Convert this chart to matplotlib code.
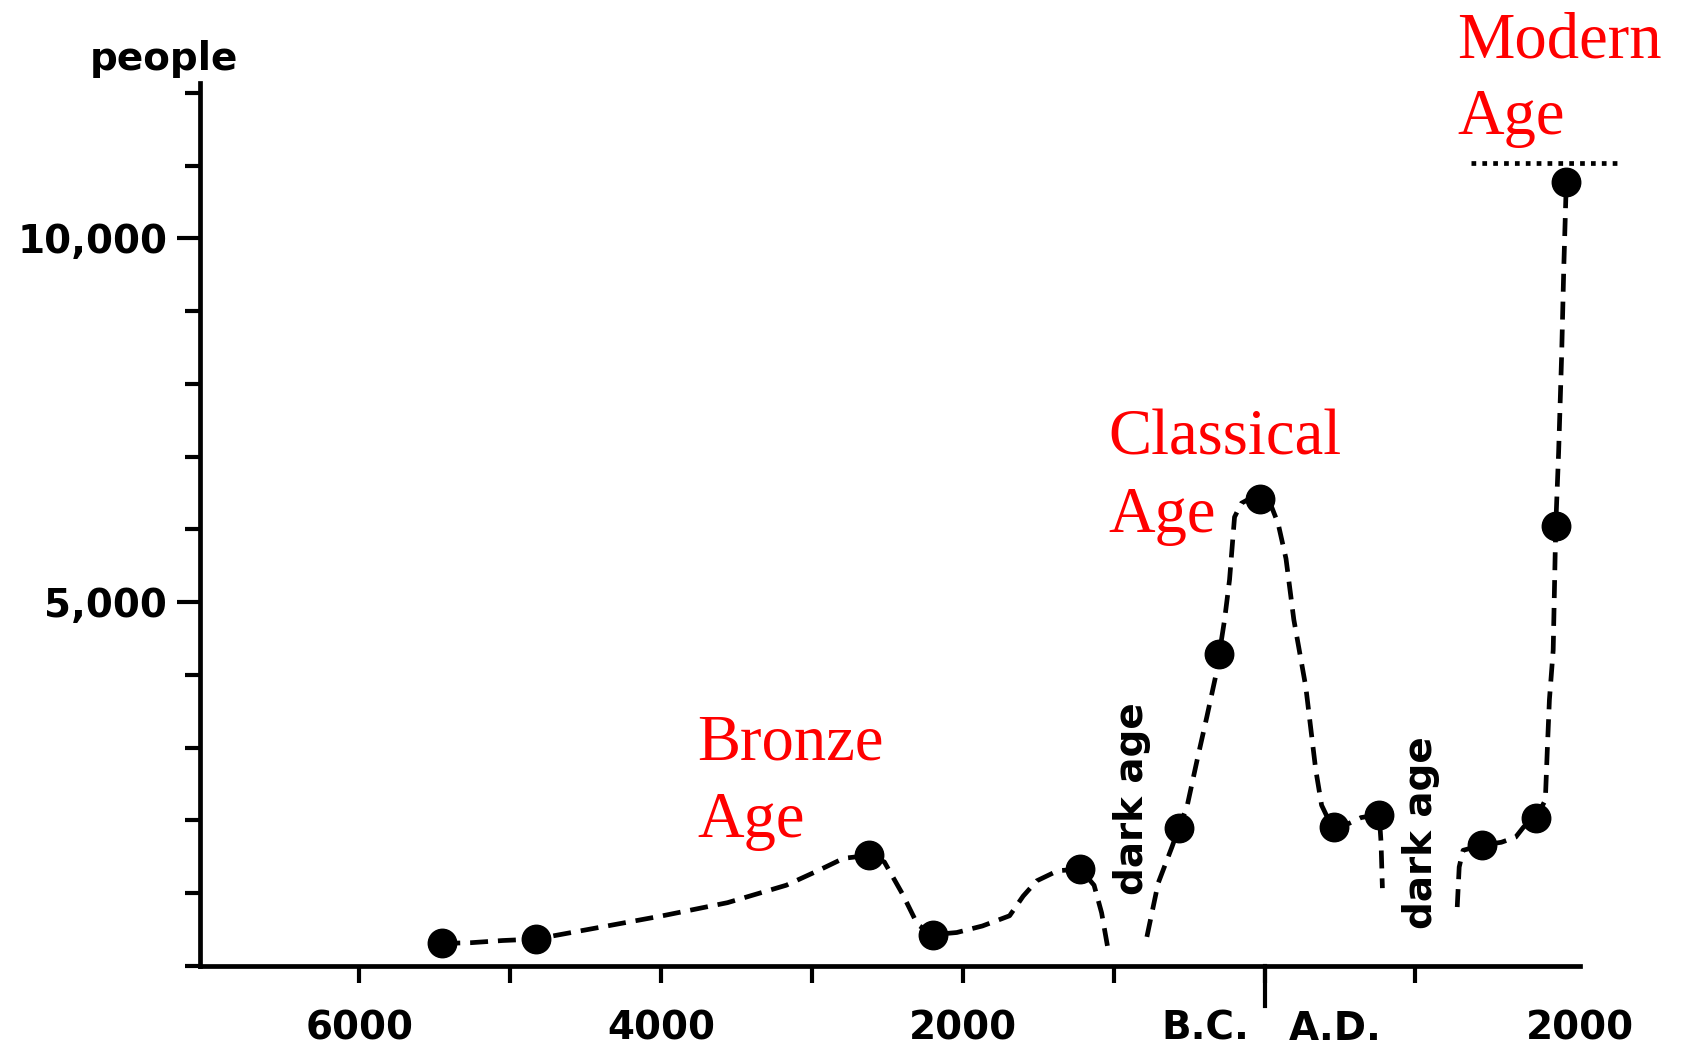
import matplotlib.pyplot as plt

# population estimates (negative year = B.C.)
years = [-5450, -4830, -2620, -2200, -1220, -570, -300, -30, 460, 760, 1440, 1800, 1930, 2000]
people = [310, 370, 1520, 430, 1330, 1890, 4290, 6420, 1910, 2080, 1660, 2040, 6050, 10780]

# dashed trend, broken at the two dark ages
bronze_x = [-5450, -5260, -5050, -4830, -4410, -3990, -3560, -3170, -2960, -2790, -2620,
            -2520, -2400, -2300, -2200, -2040, -1870, -1690, -1600, -1510, -1370, -1220,
            -1130, -1080, -1040]
bronze_y = [310, 320, 350, 370, 530, 690, 870, 1110, 1310, 1480, 1520,
            1430, 990, 570, 430, 460, 550, 690, 960, 1170, 1310, 1330,
            1110, 730, 260]

classical_x = [-780, -705, -613, -570, -514, -447, -383, -315, -300, -265, -232, -199, -154,
               -101, -30, 43, 90, 142, 194, 273, 339, 378, 424, 460, 560, 640, 760, 772, 781]
classical_y = [400, 1140, 1640, 1890, 2190, 2830, 3420, 4070, 4290, 4760, 5310, 6170, 6360,
               6420, 6420, 6330, 6080, 5600, 4760, 3840, 2700, 2210, 2010, 1910, 1960, 2040,
               2080, 1700, 1070]

modern_x = [1277, 1290, 1316, 1440, 1569, 1664, 1717, 1800, 1861, 1874, 1888, 1913, 1930,
            1949, 1969, 1983, 2000]
modern_y = [810, 1360, 1590, 1660, 1700, 1770, 1910, 2040, 2280, 2970, 3660, 4340, 6050,
            7060, 8390, 9580, 10780]

# remains of the old "modern" caption peeking under the red label
old_caption_x = [1370, 2370]
old_caption_y = [11040, 11040]

x_major = list(range(-6000, 2000, 1000))
x_major_labels = ["6000", "", "4000", "", "2000", "", "", ""]
x_minor = [-390, 470, 2090]
x_minor_labels = ["B.C.", "A.D.", "2000"]
y_major = [5000, 10000]
y_major_labels = ["5,000", "10,000"]
y_minor = [0, 1000, 2000, 3000, 4000, 6000, 7000, 8000, 9000, 11000, 12000]

ages = [("Bronze\nAge", -3762, 3460), ("Classical\nAge", -1033, 7650), ("Modern\nAge", 1277, 13110)]
dark_ages = [(-880, 2295), (1040, 1828)]

sans = {"family": "DejaVu Sans", "weight": "bold", "size": 28}

fig = plt.figure(figsize=(16.89, 10.46), dpi=100)
ax = fig.add_axes([0.1184, 0.0765, 0.817, 0.8442])

dash = (0, (3.8, 2.1))
for xs, ys in [(bronze_x, bronze_y), (classical_x, classical_y), (modern_x, modern_y)]:
    ax.plot(xs, ys, color="black", lw=3.4, linestyle=dash, clip_on=False)
ax.plot(old_caption_x, old_caption_y, color="black", lw=3.4, linestyle=(0, (1.0, 1.3)), clip_on=False)
ax.plot(years, people, "o", color="black", ms=20.5, zorder=3, clip_on=False)

ax.set_xlim(-7056, 2000)
ax.set_ylim(0, 12137)

for s in ["top", "right"]:
    ax.spines[s].set_visible(False)
for s in ["left", "bottom"]:
    ax.spines[s].set_linewidth(3.4)

ax.set_xticks(x_major)
ax.set_xticklabels(x_major_labels)
ax.set_xticks(x_minor, minor=True)
ax.set_xticklabels(x_minor_labels, minor=True)
ax.tick_params(axis="x", which="major", length=12, width=3, pad=19.5)
ax.tick_params(axis="x", which="minor", length=0, pad=31.5)

ax.set_yticks(y_major)
ax.set_yticklabels(y_major_labels)
ax.set_yticks(y_minor, minor=True)
ax.tick_params(axis="y", which="major", length=16.5, width=3, pad=7)
ax.tick_params(axis="y", which="minor", length=10.8, width=3)

for lab in ax.get_xticklabels(which="both") + ax.get_yticklabels():
    lab.set_fontproperties(sans)

# long B.C./A.D. divider tick
ax.plot([0, 0], [0, -0.045], color="black", lw=3, transform=ax.get_xaxis_transform(), clip_on=False)

ax.text(-7293, 12316, "people", ha="center", va="baseline", clip_on=False, **sans)

for x, y in dark_ages:
    ax.text(x, y, "dark age", rotation=90, ha="center", va="center", **sans)

for label, x, y in ages:
    ax.text(x, y, label, color="red", family="Liberation Serif", size=46.5,
            ha="left", va="top", linespacing=1.38, clip_on=False)

plt.savefig("out.png", dpi=100, facecolor="white")
